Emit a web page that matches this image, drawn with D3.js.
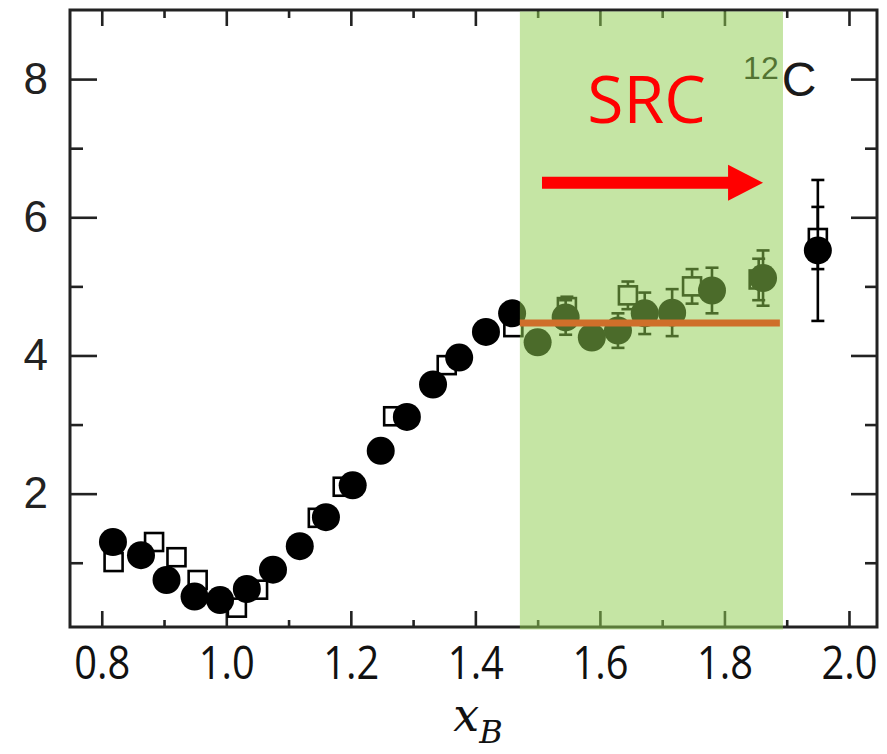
<!DOCTYPE html>
<html>
<head>
<meta charset="utf-8">
<script src="https://cdn.jsdelivr.net/npm/d3@7"></script>
<style>
    body { margin: 0; background: #fff; }
    svg { display: block; }
</style>
</head>
<body>
<script>
// filled circles (black, look green under the SRC band)
const circleX = [0.818, 0.863, 0.904, 0.949, 0.990, 1.033, 1.075, 1.118, 1.160, 1.203, 1.248, 1.290, 1.332,
    1.374, 1.417, 1.459, 1.500, 1.545, 1.587, 1.629, 1.672, 1.716, 1.780, 1.862, 1.950];
const circleY = [1.30, 1.11, 0.75, 0.51, 0.46, 0.62, 0.90, 1.24, 1.66, 2.12, 2.62, 3.11, 3.58,
    3.97, 4.34, 4.61, 4.19, 4.55, 4.26, 4.36, 4.61, 4.62, 4.94, 5.12, 5.52];
const circleErr = [0, 0, 0, 0, 0, 0, 0, 0, 0, 0, 0, 0, 0,
    0, 0, 0, 0, 0.25, 0.15, 0.25, 0.30, 0.34, 0.33, 0.40, 1.02];

// open squares
const squareX = [0.819, 0.884, 0.920, 0.954, 1.017, 1.051, 1.147, 1.187, 1.268, 1.354, 1.461,
    1.547, 1.645, 1.748, 1.855, 1.950];
const squareY = [1.01, 1.30, 1.08, 0.75, 0.35, 0.61, 1.65, 2.10, 3.12, 3.86, 4.41,
    4.70, 4.87, 5.00, 5.10, 5.70];
const squareErr = [0, 0, 0, 0, 0, 0, 0, 0, 0, 0, 0,
    0.15, 0.20, 0.25, 0.30, 0.45];

const xMajor = [0.8, 1.0, 1.2, 1.4, 1.6, 1.8, 2.0];
const xMinor = [0.9, 1.1, 1.3, 1.5, 1.7, 1.9];
const yMajor = [2, 4, 6, 8];
const yMinor = [1, 3, 5, 7];

// SRC band, plateau line and annotations (data units)
const srcBand = [1.4715, 1.894];
const plateau = {x0: 1.4715, x1: 1.889, y: 4.47};
const arrow = {x0: 1.507, x1: 1.862, y: 6.5};

const width = 887, height = 754;

const x = d3.scaleLinear().domain([0.749, 2.045]).range([70, 877]);
const y = d3.scaleLinear().domain([0.07, 9.0]).range([627, 10]);

const svg = d3.select('body')
    .append('svg')
    .attr('width', width)
    .attr('height', height);

function styleAxis(g) {
    g.select('.domain').remove();
    g.selectAll('line').attr('stroke', '#222').attr('stroke-width', 2.6);
}

// bottom
svg.append('g')
    .attr('transform', 'translate(0,627)')
    .call(d3.axisBottom(x).tickValues(xMajor).tickSize(-16).tickPadding(20).tickFormat(d3.format('.1f')))
    .call(styleAxis)
    .call(g => g.selectAll('text')
        .attr('font-family', '"Open Sans", sans-serif')
        .attr('font-size', 45)
        .attr('textLength', 56)
        .attr('lengthAdjust', 'spacingAndGlyphs')
        .attr('fill', '#111'));
svg.append('g')
    .attr('transform', 'translate(0,627)')
    .call(d3.axisBottom(x).tickValues(xMinor).tickSize(-7).tickFormat(''))
    .call(styleAxis);

// top
svg.append('g')
    .attr('transform', 'translate(0,10)')
    .call(d3.axisTop(x).tickValues(xMajor).tickSize(-16).tickFormat(''))
    .call(styleAxis);
svg.append('g')
    .attr('transform', 'translate(0,10)')
    .call(d3.axisTop(x).tickValues(xMinor).tickSize(-8).tickFormat(''))
    .call(styleAxis);

// left
svg.append('g')
    .attr('transform', 'translate(70,0)')
    .call(d3.axisLeft(y).tickValues(yMajor).tickSize(-27).tickPadding(22))
    .call(styleAxis)
    .call(g => g.selectAll('text')
        .attr('font-family', '"Liberation Sans", Arial, sans-serif')
        .attr('font-size', 44)
        .attr('fill', '#222'));
svg.append('g')
    .attr('transform', 'translate(70,0)')
    .call(d3.axisLeft(y).tickValues(yMinor).tickSize(-13).tickFormat(''))
    .call(styleAxis);

// right
svg.append('g')
    .attr('transform', 'translate(877,0)')
    .call(d3.axisRight(y).tickValues(yMajor).tickSize(-26).tickFormat(''))
    .call(styleAxis);
svg.append('g')
    .attr('transform', 'translate(877,0)')
    .call(d3.axisRight(y).tickValues(yMinor).tickSize(-12).tickFormat(''))
    .call(styleAxis);

// frame
svg.append('rect')
    .attr('x', 70)
    .attr('y', 10)
    .attr('width', 807)
    .attr('height', 617)
    .attr('fill', 'none')
    .attr('stroke', '#222')
    .attr('stroke-width', 3);

const squares = squareX.map((v, i) => ({x: v, y: squareY[i], err: squareErr[i]}));
const circles = circleX.map((v, i) => ({x: v, y: circleY[i], err: circleErr[i]}));

function drawErrors(data) {
    const e = data.filter(d => d.err > 0);
    const g = svg.append('g').attr('stroke', '#000').attr('stroke-width', 2.6);
    g.selectAll('.bar').data(e).enter().append('line')
        .attr('x1', d => x(d.x)).attr('x2', d => x(d.x))
        .attr('y1', d => y(d.y - d.err)).attr('y2', d => y(d.y + d.err));
    g.selectAll('.capt').data(e).enter().append('line')
        .attr('x1', d => x(d.x) - 6.5).attr('x2', d => x(d.x) + 6.5)
        .attr('y1', d => y(d.y + d.err)).attr('y2', d => y(d.y + d.err));
    g.selectAll('.capb').data(e).enter().append('line')
        .attr('x1', d => x(d.x) - 6.5).attr('x2', d => x(d.x) + 6.5)
        .attr('y1', d => y(d.y - d.err)).attr('y2', d => y(d.y - d.err));
}

drawErrors(squares);

svg.selectAll('.square')
    .data(squares)
    .enter()
    .append('rect')
    .classed('square', true)
    .attr('x', d => x(d.x) - 9)
    .attr('y', d => y(d.y) - 9)
    .attr('width', 18)
    .attr('height', 18)
    .attr('fill', '#fff')
    .attr('stroke', '#000')
    .attr('stroke-width', 2.6);

drawErrors(circles);

svg.selectAll('.dot')
    .data(circles)
    .enter()
    .append('circle')
    .classed('dot', true)
    .attr('cx', d => x(d.x))
    .attr('cy', d => y(d.y))
    .attr('r', 14)
    .attr('fill', '#000');

// nucleus label, the "12" sits under the band
svg.append('text')
    .attr('x', x(1.83))
    .attr('y', y(8.0))
    .attr('font-family', '"Liberation Sans", Arial, sans-serif')
    .attr('font-size', 32)
    .attr('fill', '#111')
    .text('12');

// SRC band, translucent so the marks below turn dark green
svg.append('rect')
    .attr('x', x(srcBand[0]))
    .attr('y', 11.5)
    .attr('width', x(srcBand[1]) - x(srcBand[0]))
    .attr('height', 618)
    .attr('fill', 'rgb(144,206,81)')
    .attr('fill-opacity', 0.52);

svg.append('line')
    .attr('x1', x(plateau.x0))
    .attr('x2', x(plateau.x1))
    .attr('y1', y(plateau.y))
    .attr('y2', y(plateau.y))
    .attr('stroke', '#cf6f2a')
    .attr('stroke-width', 7);

svg.append('text')
    .attr('x', x(1.892))
    .attr('y', y(7.75))
    .attr('font-family', '"Liberation Sans", Arial, sans-serif')
    .attr('font-size', 48)
    .attr('fill', '#1a1a1a')
    .text('C');

svg.append('text')
    .attr('x', x(1.675))
    .attr('y', y(7.36))
    .attr('text-anchor', 'middle')
    .attr('font-family', '"Open Sans", sans-serif')
    .attr('font-size', 66)
    .attr('fill', '#ff0000')
    .text('SRC');

// arrow
const ax0 = x(arrow.x0), ax1 = x(arrow.x1), ay = y(arrow.y);
svg.append('line')
    .attr('x1', ax0)
    .attr('x2', ax1 - 34)
    .attr('y1', ay)
    .attr('y2', ay)
    .attr('stroke', '#ff0000')
    .attr('stroke-width', 12);
svg.append('path')
    .attr('d', 'M ' + (ax1 - 35) + ',' + (ay - 18) + ' L ' + ax1 + ',' + ay + ' L ' + (ax1 - 35) + ',' + (ay + 18) + ' Z')
    .attr('fill', '#ff0000');

// x axis title
const title = svg.append('text')
    .attr('x', 478)
    .attr('y', 731)
    .attr('text-anchor', 'middle')
    .attr('font-family', '"DejaVu Serif", serif')
    .attr('font-style', 'italic')
    .attr('font-size', 46)
    .attr('fill', '#111');
title.append('tspan').text('x');
title.append('tspan')
    .attr('font-size', 32)
    .attr('dy', 12)
    .text('B');
</script>
</body>
</html>
